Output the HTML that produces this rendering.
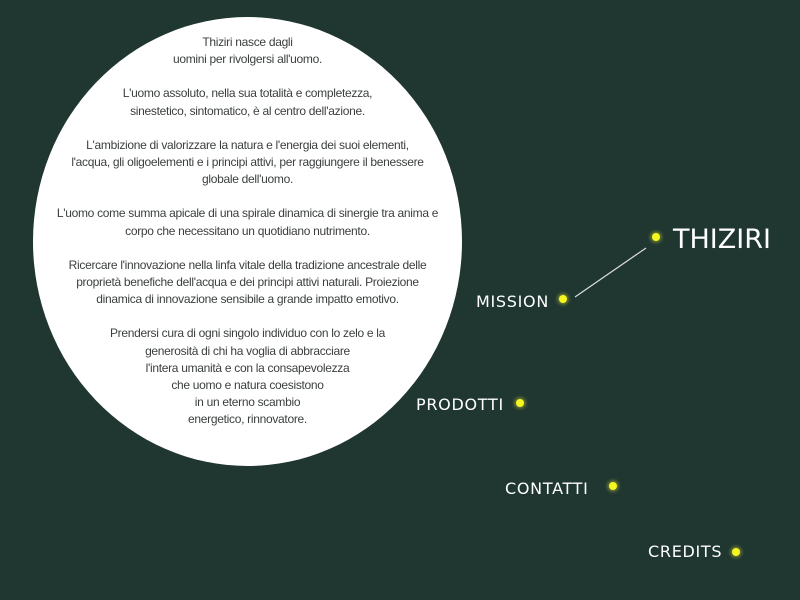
<!DOCTYPE html>
<html><head><style>
body{margin:0;width:800px;height:600px;background:#1f3631;overflow:hidden;position:relative;font-family:"Liberation Sans",sans-serif}
.c{position:absolute;left:33px;top:17px;width:429px;height:449px;border-radius:50%;background:#fff}
.t{position:absolute;left:33px;top:34px;width:429px;text-align:center;font-size:12px;line-height:17.2px;color:#3a3f3d;letter-spacing:-0.3px}
.t p{margin:0 0 17px 0}
.m{position:absolute;color:#fff;font-family:"DejaVu Sans",sans-serif;font-size:16px;letter-spacing:0.7px;line-height:18px;white-space:nowrap}
.d{position:absolute;width:8px;height:8px;border-radius:50%;background:#f5f520;box-shadow:0 0 4px 1px rgba(240,240,60,.6)}
</style></head><body>
<div class="c"></div>
<div class="t">
<p>Thiziri nasce dagli<br>uomini per rivolgersi all'uomo.</p>
<p>L'uomo assoluto, nella sua totalità e completezza,<br>sinestetico, sintomatico, è al centro dell'azione.</p>
<p>L'ambizione di valorizzare la natura e l'energia dei suoi elementi,<br>l'acqua, gli oligoelementi e i principi attivi, per raggiungere il benessere<br>globale dell'uomo.</p>
<p>L'uomo come summa apicale di una spirale dinamica di sinergie tra anima e<br>corpo che necessitano un quotidiano nutrimento.</p>
<p>Ricercare l'innovazione nella linfa vitale della tradizione ancestrale delle<br>proprietà benefiche dell'acqua e dei principi attivi naturali. Proiezione<br>dinamica di innovazione sensibile a grande impatto emotivo.</p>
<p>Prendersi cura di ogni singolo individuo con lo zelo e la<br>generosità di chi ha voglia di abbracciare<br>l'intera umanità e con la consapevolezza<br>che uomo e natura coesistono<br>in un eterno scambio<br>energetico, rinnovatore.</p>
</div>
<svg style="position:absolute;left:0;top:0" width="800" height="600"><line x1="575" y1="297" x2="646" y2="248" stroke="#ddd" stroke-width="1.2"/></svg>
<div class="m" style="left:673px;top:224px;font-size:27px;line-height:32px;letter-spacing:0">THIZIRI</div>
<div class="d" style="left:652px;top:233px"></div>
<div class="m" style="left:476px;top:293px">MISSION</div>
<div class="d" style="left:559px;top:295px"></div>
<div class="m" style="left:416px;top:396px">PRODOTTI</div>
<div class="d" style="left:516px;top:399px"></div>
<div class="m" style="left:505px;top:480px">CONTATTI</div>
<div class="d" style="left:609px;top:482px"></div>
<div class="m" style="left:648px;top:543px">CREDITS</div>
<div class="d" style="left:732px;top:548px"></div>
</body></html>
